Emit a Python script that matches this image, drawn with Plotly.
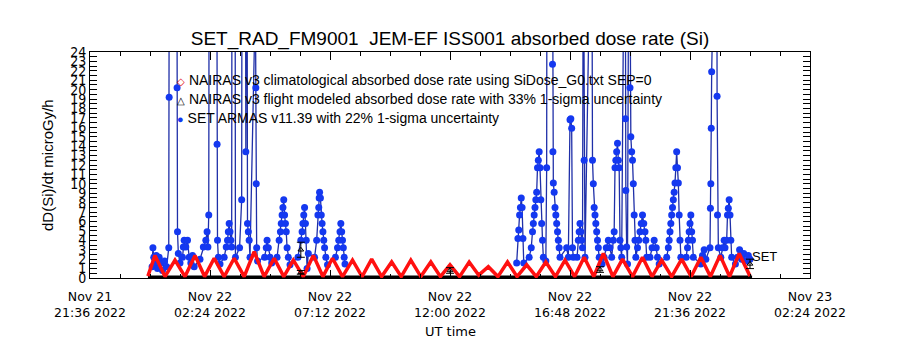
import pandas as pd
import plotly.graph_objects as go

# ---------------- data (minutes after 2022-11-22 00:00 UT) ----------------
day0 = pd.Timestamp("2022-11-22 00:00")

# NAIRAS v3 climatological absorbed dose rate (peaks / troughs)
red_min = [-5, 12, 36, 60, 84, 108, 131, 154, 178, 202, 226, 250, 274, 298, 321,
           344, 368, 392, 415, 438, 462, 486, 509, 532, 556, 580, 603, 626, 650,
           674, 697, 720, 743, 766, 789, 812, 835, 858, 881, 904, 927, 950, 973,
           996, 1019, 1042, 1065, 1088, 1111, 1134, 1158, 1182, 1205, 1228, 1252,
           1276, 1299, 1322, 1345, 1368, 1391, 1414, 1440]
red_val = [0.2, 2.4, 0.15, 1.9, 0.15, 2.4, 0.15, 2.1, 0.15, 2.1, 0.15, 2.8, 0.15, 2.1, 0.15,
           1.9, 0.15, 2.4, 0.15, 2.1, 0.15, 1.9, 0.15, 2.0, 0.15, 1.7, 0.15, 1.9, 0.15,
           1.7, 0.15, 1.4, 0.15, 1.7, 0.3, 1.2, 0.15, 1.7, 0.15, 1.4, 0.15, 1.7, 0.15,
           1.9, 0.15, 2.2, 0.15, 2.6, 0.15, 2.0, 0.15, 2.2, 0.15, 1.9, 0.15, 2.0, 0.15,
           2.2, 0.15, 2.4, 0.15, 2.6, 0.2]

# NAIRAS v3 flight modeled absorbed dose rate (33% 1-sigma)
flight_min = [362, 362, 720, 1080, 1440]
flight_val = [3.0, 0.6, 0.8, 0.9, 1.5]
flight_err = [0.8, 0.2, 0.3, 0.3, 0.5]

# flight modeled baseline
base_min = [-5, 1445]
base_val = [0.0, 0.0]

# SET ARMAS v11.39 (22% 1-sigma)
blue_min = [5, 7, 9, 12, 15, 18, 22, 26, 30, 35, 40,
            45, 46, 47, 64, 65, 66, 68, 72,
            78, 80, 82, 86, 90, 94, 98, 102, 106,
            120, 128, 134, 137, 139, 141, 142,
            160, 161, 162, 164, 168,
            178, 183, 186, 188, 190, 192, 194, 196, 197, 204, 205,
            215, 220, 221, 229, 230, 231, 233, 234, 236, 238, 240,
            253, 254, 255, 256, 258,
            275, 279, 281, 284, 288, 292,
            305, 310, 313, 315, 317, 319, 321, 323, 325, 327, 329, 332, 336,
            355, 362, 365, 367, 369, 371, 373, 375, 377, 380,
            395, 400, 403, 405, 406, 407, 409, 411, 413, 415, 417, 419, 422, 426,
            445, 450, 453, 456, 458, 460, 462, 464, 466, 468,
            None,
            880, 883, 885, 887, 889, 891, 893, 895, 897,
            910, 915, 918, 920, 922, 924, 926, 928, 930, 932, 934, 936, 938, 940, 942, 944,
            950, 952, 953, 965, 966, 967, 968, 970, 972, 974, 976, 978, 980, 982, 984,
            1000, 1004, 1008, 1010, 1012, 1014, 1016,
            1025, 1028, 1030, 1032, 1034, 1036, 1038,
            1040, 1042, 1044,
            1060, 1062, 1064, 1066, 1068, 1070, 1072, 1074, 1076, 1078,
            1085, 1090, 1095, 1100, 1104, 1108,
            1112, 1114, 1116, 1118, 1120, 1122, 1124, 1126, 1128, 1130, 1132,
            1140, 1141, 1142, 1144, 1146,
            1150, 1152, 1154, 1156, 1158, 1160, 1162, 1164, 1166,
            1170, 1173, 1176, 1179, 1182, 1185, 1188, 1190, 1192,
            1200, 1205, 1210, 1215, 1218, 1222,
            1240, 1244, 1246, 1248, 1250, 1252, 1254, 1256, 1258, 1260, 1262, 1264,
            1266, 1268, 1270, 1272, 1274,
            1287, 1290, 1292, 1294, 1296, 1298, 1300, 1302, 1304,
            1322, 1326, 1330, 1334,
            1344, 1345, 1346, 1347, 1348, 1349, 1360, 1361, 1362, 1364,
            1370, 1374, 1378, 1380,
            1384, 1386, 1388, 1390, 1392, 1394, 1396,
            1405, 1410, 1415, 1420, 1425, 1430, 1436, 1440]
blue_val = [1.2, 3.2, 2.2, 1.5, 2.4, 1.0, 2.2, 1.6, 0.8, 1.8, 1.2,
            3.2, 19.2, 60, 45, 20.2, 4.9, 2.6, 1.6,
            2.2, 3.3, 4.0, 3.3, 4.0, 2.2, 1.6, 2.4, 1.2,
            2.0, 3.3, 4.0, 4.9, 3.3, 6.7, 40,
            40, 14.2, 4.0, 2.2, 1.5,
            2.2, 3.3, 4.0, 4.9, 5.8, 4.9, 4.0, 3.3, 50, 50, 2.2,
            3.2, 8.3, 45, 45, 13.4, 35, 35, 5.8, 4.9, 4.0, 2.2,
            30, 20.2, 10.0, 3.2, 1.8,
            2.2, 3.2, 4.0, 3.2, 2.2, 1.6,
            2.2, 4.0, 4.9, 5.8, 6.7, 7.5, 8.3, 6.7, 5.8, 4.9, 3.2, 2.2, 1.4,
            2.2, 4.0, 4.9, 5.8, 6.7, 7.5, 5.8, 4.0, 1.0, 2.6,
            2.2, 4.0, 6.7, 7.5, 8.5, 9.1, 8.5, 6.7, 5.8, 4.9, 4.0, 3.2, 2.2, 1.4,
            2.2, 3.2, 4.0, 4.9, 5.8, 4.9, 4.0, 3.2, 2.2, 1.5,
            None,
            1.6, 4.2, 5.1, 6.7, 7.5, 8.5, 7.5, 4.2, 1.6,
            2.2, 3.2, 4.9, 5.8, 6.7, 7.5, 8.3, 9.1, 11.7, 12.5, 13.4, 11.7, 8.3, 5.8, 4.0, 2.2,
            1.8, 11.7, 50, 50, 22.7, 13.4, 10.1, 9.1, 7.5, 6.7, 5.8, 4.9, 4.0, 3.2, 2.2,
            3.2, 2.2, 16.8, 16.9, 15.9, 3.2, 2.2,
            2.2, 4.0, 4.9, 5.8, 4.9, 4.0, 3.2,
            40, 12.5, 2.2,
            45, 12.5, 10.0, 7.5, 6.7, 5.8, 4.9, 4.0, 3.2, 2.2,
            1.5, 2.2, 3.2, 4.0, 3.2, 2.2,
            4.0, 4.9, 11.7, 12.5, 13.4, 14.3, 12.5, 11.7, 4.0, 3.2, 2.2,
            50, 16.9, 9.3, 3.3, 1.5,
            50, 20.2, 15.0, 13.4, 12.5, 10.0, 6.7, 4.0, 2.2,
            3.2, 4.0, 4.9, 5.8, 6.7, 5.8, 4.9, 4.0, 2.2,
            2.2, 3.2, 4.0, 3.2, 2.2, 1.5,
            2.2, 3.2, 4.0, 4.9, 5.8, 6.7, 7.5, 8.3, 9.1, 10.1, 11.7, 13.4,
            11.7, 10.1, 6.7, 4.0, 2.2,
            2.2, 3.2, 4.0, 4.9, 5.8, 6.7, 4.9, 4.0, 2.2,
            1.5, 2.4, 3.0, 2.0,
            3.2, 7.4, 10.0, 15.9, 21.9, 50, 50, 19.3, 6.7, 3.2,
            2.2, 3.2, 4.0, 3.2,
            4.0, 6.7, 7.4, 8.3, 6.7, 4.0, 2.2,
            1.5, 2.2, 3.0, 2.0, 2.6, 1.8, 2.4, 2.0]

x_tick_times = ["2022-11-21 21:36", "2022-11-22 02:24", "2022-11-22 07:12",
                "2022-11-22 12:00", "2022-11-22 16:48", "2022-11-22 21:36",
                "2022-11-23 02:24"]
x_tick_text = ["Nov 21<br>21:36 2022", "Nov 22<br>02:24 2022", "Nov 22<br>07:12 2022",
               "Nov 22<br>12:00 2022", "Nov 22<br>16:48 2022", "Nov 22<br>21:36 2022",
               "Nov 23<br>02:24 2022"]
y_tick_vals = list(range(0, 25))
y_tick_text = [str(v) for v in y_tick_vals]


def to_time(mins):
    return [None if m is None else day0 + pd.Timedelta(minutes=m) for m in mins]


# ---------------- figure ----------------
fig = go.Figure()

fig.add_trace(go.Scatter(
    x=to_time(base_min), y=base_val, mode="lines",
    line=dict(color="black", width=5), showlegend=False, hoverinfo="skip"))

fig.add_trace(go.Scatter(
    x=to_time(blue_min), y=blue_val, mode="lines+markers",
    line=dict(color="#1f2fa8", width=1.3),
    marker=dict(color="#1438f0", size=7, symbol="circle"),
    connectgaps=False, showlegend=False))

fig.add_trace(go.Scatter(
    x=to_time(red_min), y=red_val, mode="lines",
    line=dict(color="#ff1010", width=3.5), showlegend=False))

fig.add_trace(go.Scatter(
    x=to_time(flight_min), y=flight_val, mode="markers",
    marker=dict(color="black", size=5, symbol="triangle-up-open", line=dict(width=1)),
    error_y=dict(type="data", array=flight_err, color="black", thickness=1, width=4),
    showlegend=False))

tickfont = dict(family="DejaVu Sans, sans-serif", size=12.5, color="black")

fig.update_layout(
    width=900, height=350,
    margin=dict(l=90, r=90, t=52, b=72),
    paper_bgcolor="white", plot_bgcolor="white",
    showlegend=False,
    title=dict(text="SET_RAD_FM9001  JEM-EF ISS001 absorbed dose rate (Si)",
               x=0.5, xanchor="center", y=1 - 38 / 350, yanchor="middle",
               font=dict(family="Liberation Sans, sans-serif", size=19, color="black")),
    xaxis=dict(
        type="date",
        range=["2022-11-21 21:36", "2022-11-23 02:24"],
        tickmode="array", tickvals=x_tick_times, ticktext=x_tick_text,
        ticks="inside", ticklen=8, tickcolor="black",
        ticklabelstandoff=7,
        showline=True, linecolor="black", linewidth=1, mirror="ticks",
        showgrid=False, zeroline=False,
        tickfont=tickfont,
        minor=dict(ticks="inside", ticklen=4, tickcolor="black",
                   dtick=1.2 * 3600 * 1000, tick0="2022-11-21 21:36", showgrid=False),
    ),
    yaxis=dict(
        range=[0, 24],
        tickmode="array", tickvals=y_tick_vals, ticktext=y_tick_text,
        ticks="inside", ticklen=7, tickcolor="black",
        showline=True, linecolor="black", linewidth=1, mirror="ticks",
        showgrid=False, zeroline=False,
        tickfont=dict(family="Liberation Sans Narrow, DejaVu Sans Condensed, sans-serif",
                      size=14, color="black"),
        minor=dict(ticks="inside", ticklen=7, tickcolor="black", dtick=0.5,
                   tick0=0, showgrid=False),
    ),
)

legend_font = dict(family="Liberation Sans, sans-serif", size=14, color="black")
legend_items = [
    ('<span style="color:#e00000;font-size:10px">◇</span> NAIRAS v3 climatological absorbed dose rate using SiDose_G0.txt SEP=0', 80),
    ('<span style="font-size:10px">△</span> NAIRAS v3 flight modeled absorbed dose rate with 33% 1-sigma uncertainty', 99),
    ('<span style="color:#1438f0;font-size:11px">●</span> SET ARMAS v11.39 with 22% 1-sigma uncertainty', 118),
]
for txt, ypx in legend_items:
    fig.add_annotation(text=txt, xref="paper", yref="paper",
                       x=(175 - 90) / 720, y=(278 - ypx) / 226,
                       xanchor="left", yanchor="middle", showarrow=False,
                       font=legend_font)

fig.add_annotation(text="SET", xref="paper", yref="paper",
                   x=(750 - 90) / 720, y=(278 - 256) / 226,
                   xanchor="left", yanchor="middle", showarrow=False,
                   font=dict(family="Liberation Sans, sans-serif", size=13, color="black"))

fig.add_annotation(text="dD(Si)/dt microGy/h", xref="paper", yref="paper",
                   x=(47 - 90) / 720, y=0.5, textangle=-90,
                   xanchor="center", yanchor="middle", showarrow=False,
                   font=dict(family="Liberation Sans, sans-serif", size=15, color="black"))

fig.add_annotation(text="UT time", xref="paper", yref="paper",
                   x=0.5, y=(278 - 331) / 226,
                   xanchor="center", yanchor="middle", showarrow=False,
                   font=dict(family="DejaVu Sans, sans-serif", size=13, color="black"))

fig.write_html("out.html")
